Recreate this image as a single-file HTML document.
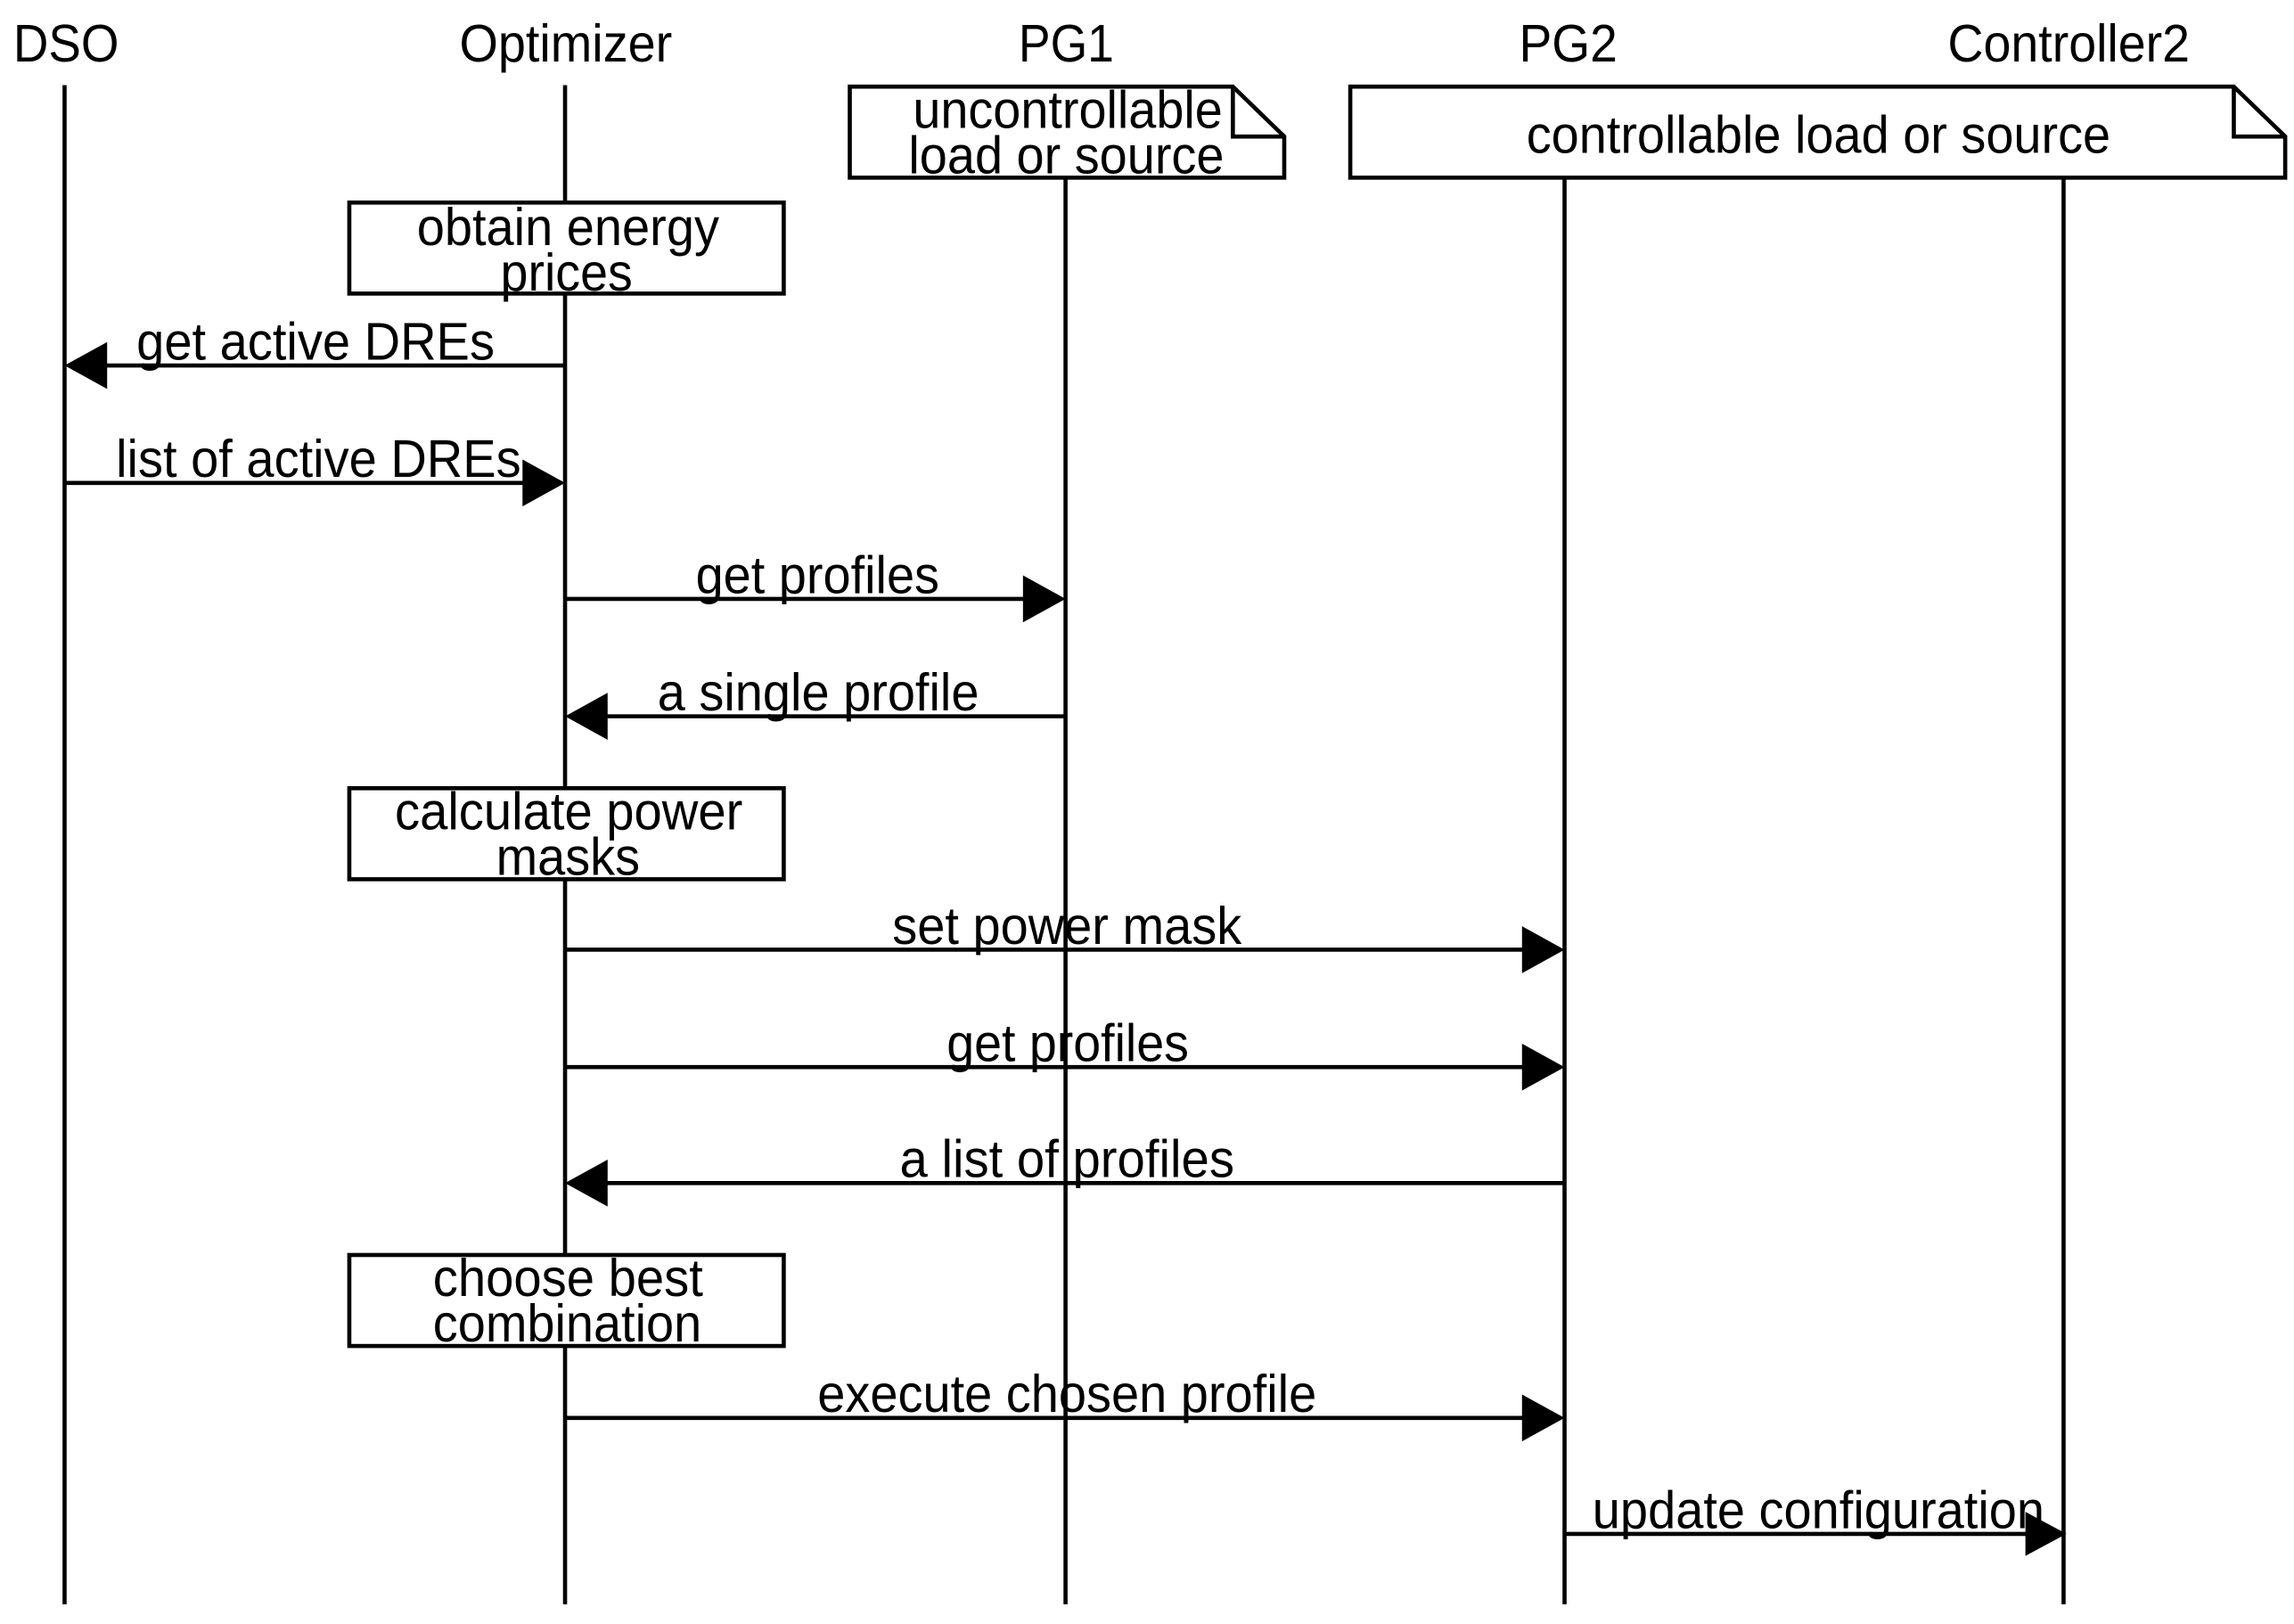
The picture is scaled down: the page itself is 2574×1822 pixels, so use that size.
<!DOCTYPE html>
<html><head><meta charset="utf-8"><style>
html,body{margin:0;padding:0;background:#fff;}
svg{display:block;}
text{font-family:"Liberation Sans",sans-serif;font-size:36px;fill:#000;}
</style></head><body>
<svg width="2574" height="1822" viewBox="0 0 1563 1106.4" preserveAspectRatio="none" xmlns="http://www.w3.org/2000/svg">
<g stroke="#000" stroke-width="2.8" fill="none">
<line x1="44" y1="58" x2="44" y2="1093"/>
<line x1="385" y1="58" x2="385" y2="1093"/>
<line x1="726" y1="121" x2="726" y2="1093"/>
<line x1="1066" y1="121" x2="1066" y2="1093"/>
<line x1="1406" y1="121" x2="1406" y2="1093"/>
</g>
<path d="M579 59 H840 L875 93 V121 H579 Z" fill="#fff" stroke="#000" stroke-width="2.8"/>
<path d="M840 59 V93 H875" fill="none" stroke="#000" stroke-width="2.8"/>
<path d="M920 59 H1522 L1557 93 V121 H920 Z" fill="#fff" stroke="#000" stroke-width="2.8"/>
<path d="M1522 59 V93 H1557" fill="none" stroke="#000" stroke-width="2.8"/>
<rect x="238" y="138" width="296" height="62" fill="#fff" stroke="#000" stroke-width="2.8"/>
<rect x="238" y="537" width="296" height="62" fill="#fff" stroke="#000" stroke-width="2.8"/>
<rect x="238" y="855" width="296" height="62" fill="#fff" stroke="#000" stroke-width="2.8"/>
<g stroke="#000" stroke-width="2.8">
<line x1="385" y1="249" x2="70" y2="249"/>
<line x1="44" y1="329" x2="360" y2="329"/>
<line x1="385" y1="408" x2="700" y2="408"/>
<line x1="726" y1="488" x2="410" y2="488"/>
<line x1="385" y1="647" x2="1040" y2="647"/>
<line x1="385" y1="727" x2="1040" y2="727"/>
<line x1="1066" y1="806" x2="410" y2="806"/>
<line x1="385" y1="966" x2="1040" y2="966"/>
<line x1="1066" y1="1045" x2="1385" y2="1045"/>
</g>
<g fill="#000">
<polygon points="44,249 73,233 73,265"/>
<polygon points="385,329 356,313 356,345"/>
<polygon points="726,408 697,392 697,424"/>
<polygon points="385,488 414,472 414,504"/>
<polygon points="1066,647 1037,631 1037,663"/>
<polygon points="1066,727 1037,711 1037,743"/>
<polygon points="385,806 414,790 414,822"/>
<polygon points="1066,966 1037,950 1037,982"/>
<polygon points="1408,1045 1380,1030 1380,1060"/>
</g>
<g>
<text x="9" y="42" textLength="72" lengthAdjust="spacingAndGlyphs">DSO</text>
<text x="313" y="42" textLength="145" lengthAdjust="spacingAndGlyphs">Optimizer</text>
<text x="694" y="42" textLength="65" lengthAdjust="spacingAndGlyphs">PG1</text>
<text x="1035" y="42" textLength="67" lengthAdjust="spacingAndGlyphs">PG2</text>
<text x="1327" y="42" textLength="165" lengthAdjust="spacingAndGlyphs">Controller2</text>
<text x="622" y="87" textLength="211" lengthAdjust="spacingAndGlyphs">uncontrollable</text>
<text x="619" y="118" textLength="215" lengthAdjust="spacingAndGlyphs">load or source</text>
<text x="1040" y="104" textLength="398" lengthAdjust="spacingAndGlyphs">controllable load or source</text>
<text x="284" y="167" textLength="206" lengthAdjust="spacingAndGlyphs">obtain energy</text>
<text x="341" y="198" textLength="90" lengthAdjust="spacingAndGlyphs">prices</text>
<text x="269" y="565" textLength="237" lengthAdjust="spacingAndGlyphs">calculate power</text>
<text x="338" y="596" textLength="98" lengthAdjust="spacingAndGlyphs">masks</text>
<text x="295" y="883" textLength="184" lengthAdjust="spacingAndGlyphs">choose best</text>
<text x="295" y="914" textLength="183" lengthAdjust="spacingAndGlyphs">combination</text>
<text x="93" y="245" textLength="244" lengthAdjust="spacingAndGlyphs">get active DREs</text>
<text x="79" y="325" textLength="276" lengthAdjust="spacingAndGlyphs">list of active DREs</text>
<text x="474" y="404" textLength="166" lengthAdjust="spacingAndGlyphs">get profiles</text>
<text x="448" y="484" textLength="219" lengthAdjust="spacingAndGlyphs">a single profile</text>
<text x="608" y="643" textLength="238" lengthAdjust="spacingAndGlyphs">set power mask</text>
<text x="645" y="723" textLength="165" lengthAdjust="spacingAndGlyphs">get profiles</text>
<text x="613" y="802" textLength="228" lengthAdjust="spacingAndGlyphs">a list of profiles</text>
<text x="557" y="962" textLength="340" lengthAdjust="spacingAndGlyphs">execute chosen profile</text>
<text x="1085" y="1041" textLength="308" lengthAdjust="spacingAndGlyphs">update configuration</text>
</g>
</svg>
</body></html>
